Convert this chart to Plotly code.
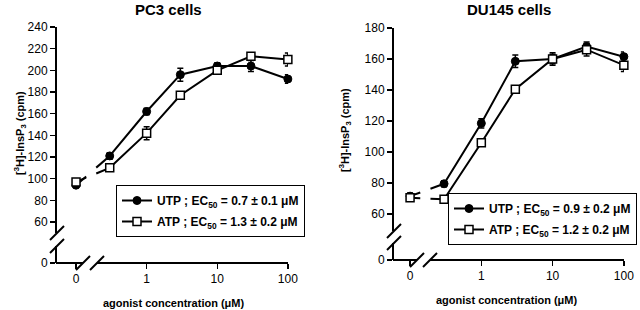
import math
import plotly.graph_objects as go

W, H = 640, 310

# ---------------- data ----------------
conc = [0, 0.3, 1, 3, 10, 30, 100]          # agonist concentration (µM)
ZERO_AT = 0.1                                # where "0" is drawn on the log axis
x_tick_vals = [0, 1, 10, 100]
x_tick_text = ["0", "1", "10", "100"]

pc3_utp = [94, 121, 162, 196, 204, 204, 192]
pc3_utp_err = [2, 3, 3, 6, 3, 5, 4]
pc3_atp = [97, 110, 142, 177, 200, 213, 210]
pc3_atp_err = [2, 3, 6, 3, 3, 3, 6]

du_utp = [71.5, 79.5, 118.5, 158.5, 160, 168, 161.5]
du_utp_err = [2, 2, 3, 4, 3, 3, 3]
du_atp = [70.5, 69.5, 106, 140.5, 160, 166, 156]
du_atp_err = [2, 2, 2, 2, 4, 4, 4]

pc3_yticks = [60, 80, 100, 120, 140, 160, 180, 200, 220, 240]
du_yticks = [60, 80, 100, 120, 140, 160, 180]

pc3_utp_name = "UTP ; EC<sub>50</sub> = 0.7 ± 0.1 μM"
pc3_atp_name = "ATP ; EC<sub>50</sub> = 1.3 ± 0.2 μM"
du_utp_name = "UTP ; EC<sub>50</sub> = 0.9 ± 0.2 μM"
du_atp_name = "ATP ; EC<sub>50</sub> = 1.2 ± 0.2 μM"

FONT = "Liberation Sans, Arial, sans-serif"


def fx(px):
    return px / W


def fy(py):
    return 1 - py / H


def plot_x(values):
    return [ZERO_AT if c == 0 else c for c in values]


xs = plot_x(conc)


def stub_line(y):
    """short line pieces on both sides of the axis break (between 0 and first dose)"""
    lx0, lx1 = math.log10(xs[0]), math.log10(xs[1])
    out_x, out_y = [], []
    for f0, f1 in ((0.0, 0.3), (0.6, 1.0)):
        for f in (f0, f1):
            out_x.append(10 ** (lx0 + f * (lx1 - lx0)))
            out_y.append(y[0] + f * (y[1] - y[0]))
        out_x.append(None)
        out_y.append(None)
    return out_x, out_y


fig = go.Figure()

UTP_MARK = dict(symbol="circle", size=8, color="black", line=dict(color="black", width=1))
ATP_MARK = dict(symbol="square", size=8, color="white", line=dict(color="black", width=1.5))


def add_series(y, err, name, marker, xa, ya, legend):
    sx, sy = stub_line(y)
    fig.add_trace(go.Scatter(x=sx, y=sy, mode="lines", line=dict(color="black", width=2),
                             xaxis=xa, yaxis=ya, showlegend=False, hoverinfo="skip",
                             cliponaxis=False))
    fig.add_trace(go.Scatter(x=xs[:1], y=y[:1], mode="markers", marker=marker,
                             error_y=dict(type="data", array=err[:1], color="black",
                                          thickness=1.5, width=3),
                             xaxis=xa, yaxis=ya, showlegend=False, cliponaxis=False))
    fig.add_trace(go.Scatter(x=xs[1:], y=y[1:], mode="lines+markers", name=name,
                             marker=marker, line=dict(color="black", width=2),
                             error_y=dict(type="data", array=err[1:], color="black",
                                          thickness=1.5, width=3),
                             xaxis=xa, yaxis=ya, legend=legend, legendgroup=name,
                             cliponaxis=False))


add_series(pc3_utp, pc3_utp_err, pc3_utp_name, UTP_MARK, "x", "y", "legend")
add_series(pc3_atp, pc3_atp_err, pc3_atp_name, ATP_MARK, "x", "y", "legend")
add_series(du_utp, du_utp_err, du_utp_name, UTP_MARK, "x2", "y3", "legend2")
add_series(du_atp, du_atp_err, du_atp_name, ATP_MARK, "x2", "y3", "legend2")

# empty traces so that the lower (broken-off) y axis segments are created
for xa, ya in (("x", "y2"), ("x2", "y4")):
    fig.add_trace(go.Scatter(x=[None], y=[None], mode="markers", xaxis=xa, yaxis=ya,
                             showlegend=False, hoverinfo="skip"))

tickfont = dict(family=FONT, size=12, color="black")
ax_common = dict(showgrid=False, zeroline=False, ticks="outside", ticklen=5,
                 tickwidth=1.5, tickcolor="black", tickfont=tickfont,
                 linecolor="black", linewidth=2, automargin=False)

x_ticks_plot = plot_x(x_tick_vals)

# geometry (pixels)
L = dict(yx=57, xend=288, top=27, up_bot=233, lo_top=246, base=263,
         xb1=83, xb2=97, ymax=240, ymin_px_val=222, ymin_val=60)
R = dict(yx=394, xend=624, top=28, up_bot=231, lo_top=243, base=260,
         xb1=417, xb2=430, ymax=180, ymin_px_val=214, ymin_val=60)


def axis_ranges(g):
    scale = (g["ymin_px_val"] - g["top"]) / (g["ymax"] - g["ymin_val"])  # px per unit
    up_min = g["ymin_val"] - (g["up_bot"] - g["ymin_px_val"]) / scale
    lo_max = (g["base"] - g["lo_top"]) / scale
    return up_min, lo_max


l_up_min, l_lo_max = axis_ranges(L)
r_up_min, r_lo_max = axis_ranges(R)


def x_range(g, zero_px, dec_px):
    return [math.log10(ZERO_AT) - (zero_px - g["yx"]) / dec_px, 2.002]


fig.update_layout(
    xaxis=dict(ax_common, domain=[fx(L["yx"]), fx(L["xend"])], type="log",
               range=x_range(L, 76, 70.5), anchor="y2", showline=False,
               tickvals=x_ticks_plot, ticktext=x_tick_text),
    yaxis=dict(ax_common, domain=[fy(L["up_bot"]), fy(L["top"])],
               range=[l_up_min, L["ymax"]], anchor="x", showline=True,
               tickvals=pc3_yticks),
    yaxis2=dict(ax_common, domain=[fy(L["base"]), fy(L["lo_top"])],
                range=[0, l_lo_max], anchor="x", showline=True, tickvals=[0]),
    xaxis2=dict(ax_common, domain=[fx(R["yx"]), fx(R["xend"])], type="log",
                range=x_range(R, 410, 71), anchor="y4", showline=False,
                tickvals=x_ticks_plot, ticktext=x_tick_text),
    yaxis3=dict(ax_common, domain=[fy(R["up_bot"]), fy(R["top"])],
                range=[r_up_min, R["ymax"]], anchor="x2", showline=True,
                tickvals=du_yticks),
    yaxis4=dict(ax_common, domain=[fy(R["base"]), fy(R["lo_top"])],
                range=[0, r_lo_max], anchor="x2", showline=True, tickvals=[0]),
)

legend_common = dict(bgcolor="white", bordercolor="black", borderwidth=1,
                     font=dict(family=FONT, size=12, color="black", weight="bold"),
                     xanchor="right", yanchor="top", tracegroupgap=2, itemwidth=30)
fig.update_layout(
    legend=dict(legend_common, x=fx(305), y=fy(185)),
    legend2=dict(legend_common, x=fx(637), y=fy(193)),
)

# axis lines with breaks + slash marks
shapes = []
for g in (L, R):
    line = dict(type="line", xref="paper", yref="paper", line=dict(color="black", width=2))
    shapes.append(dict(line, x0=fx(g["yx"] - 1), x1=fx(g["xb1"]), y0=fy(g["base"]), y1=fy(g["base"])))
    shapes.append(dict(line, x0=fx(g["xb2"]), x1=fx(g["xend"]), y0=fy(g["base"]), y1=fy(g["base"])))
    s = 7
    for cx in (g["xb1"], g["xb2"]):
        shapes.append(dict(line, x0=fx(cx - s), x1=fx(cx + s), y0=fy(g["base"] + s), y1=fy(g["base"] - s)))
    for cy in (g["up_bot"], g["lo_top"]):
        shapes.append(dict(line, x0=fx(g["yx"] - s), x1=fx(g["yx"] + s), y0=fy(cy + s), y1=fy(cy - s)))
fig.update_layout(shapes=shapes)

ann = []
bold = dict(family=FONT, color="black", weight="bold")
ann.append(dict(text="PC3 cells", x=fx(168), y=fy(10), font=dict(bold, size=15)))
ann.append(dict(text="DU145 cells", x=fx(509), y=fy(10), font=dict(bold, size=15)))
ann.append(dict(text="agonist concentration (μM)", x=fx(174), y=fy(303), font=dict(bold, size=11)))
ann.append(dict(text="agonist concentration (μM)", x=fx(507), y=fy(300), font=dict(bold, size=11)))
ann.append(dict(text="[<sup>3</sup>H]-InsP<sub>3</sub> (cpm)", x=fx(20), y=fy(133),
                textangle=-90, font=dict(bold, size=11)))
ann.append(dict(text="[<sup>3</sup>H]-InsP<sub>3</sub> (cpm)", x=fx(345), y=fy(130),
                textangle=-90, font=dict(bold, size=11)))
for a in ann:
    a.update(xref="paper", yref="paper", showarrow=False, xanchor="center", yanchor="middle")
fig.update_layout(annotations=ann)

fig.update_layout(width=W, height=H,
                  margin=dict(l=0, r=0, t=0, b=0, pad=0, autoexpand=False),
                  paper_bgcolor="white", plot_bgcolor="white")

fig.write_html(
    "out.html",
    config={"displayModeBar": False, "staticPlot": True},
    post_script=(
        "document.documentElement.style.margin='0';"
        "document.documentElement.style.overflow='hidden';"
        "document.body.style.margin='0';"
        "document.body.style.overflow='hidden';"
    ),
)
